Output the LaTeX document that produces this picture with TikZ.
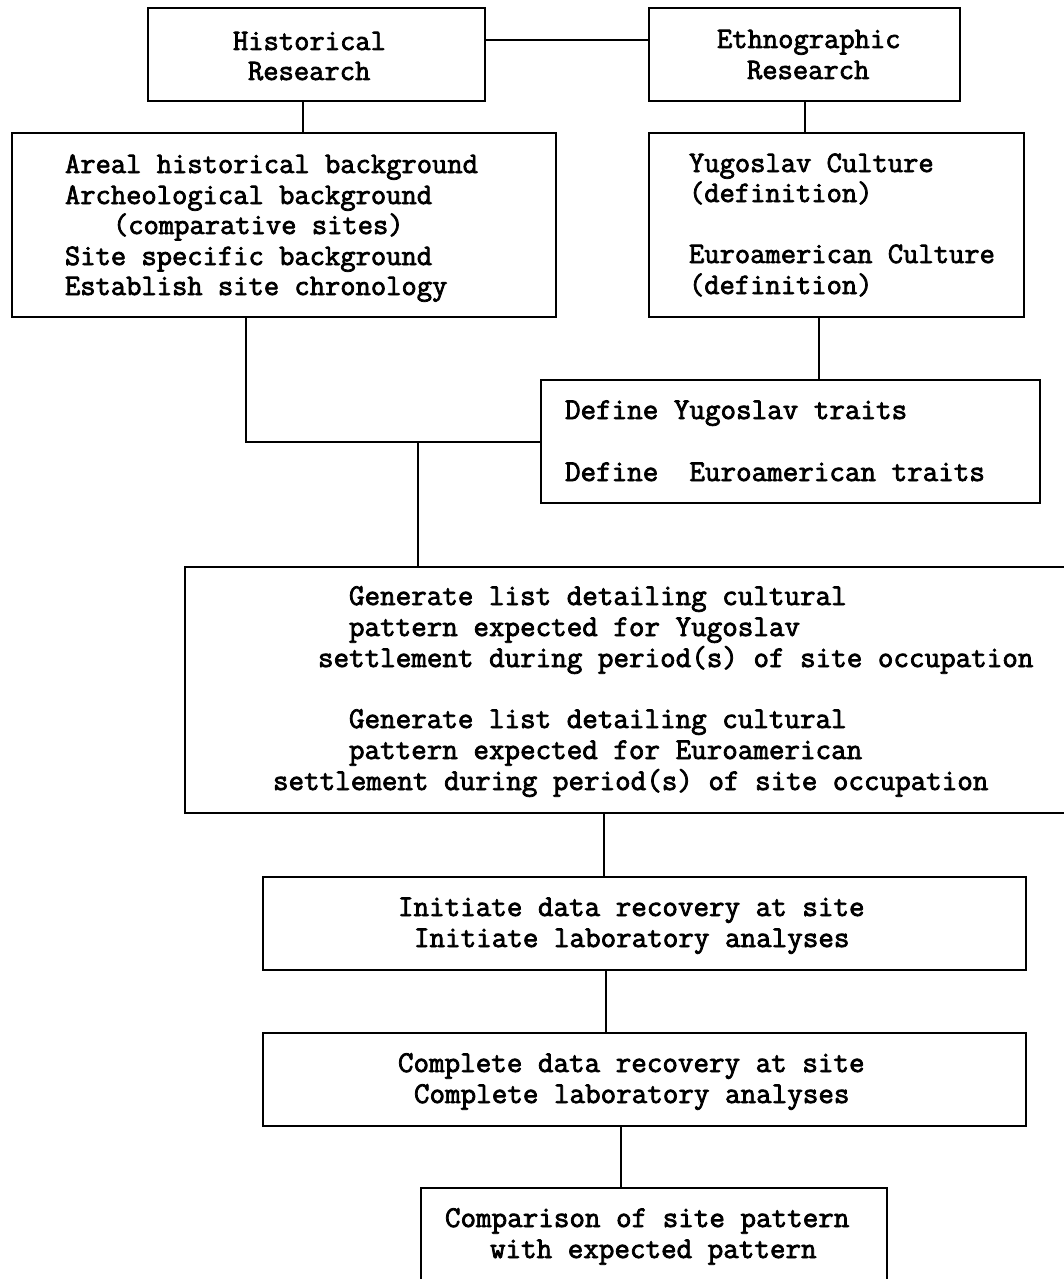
\documentclass[tikz,border=0pt]{standalone}
\usepackage{fontspec}
\newfontfamily\tw{Latin Modern Mono}[FakeBold=2.5]
\usetikzlibrary{calc}
\tikzset{
  boxx/.style={draw, line width=2.2pt, rectangle, inner sep=0pt, outer sep=0pt, anchor=north west},
  tline/.style={anchor=base west, inner sep=0pt, outer sep=0pt, font=\tw\fontsize{29.7}{31}\selectfont},
  bline/.style={anchor=base west, inner sep=0pt, outer sep=0pt, font=\tw\fontsize{30.2}{31}\selectfont},
  conn/.style={line width=2pt}
}
\begin{document}
\begin{tikzpicture}[x=1pt, y=-1pt]
\useasboundingbox (0,0) rectangle (1064,1279);
\clip (0,0) rectangle (1064,1279);
% boxes
\node[boxx, minimum width=337pt, minimum height=93pt] (hist) at (148,8) {};
\node[boxx, minimum width=311pt, minimum height=93pt] (eth) at (649,8) {};
\node[boxx, minimum width=544pt, minimum height=184pt] (bg) at (12,133) {};
\node[boxx, minimum width=375pt, minimum height=184pt] (cult) at (649,133) {};
\node[boxx, minimum width=499pt, minimum height=123pt] (traits) at (541,380) {};
\node[boxx, minimum width=890pt, minimum height=246pt] (gen) at (185,567) {};
\node[boxx, minimum width=763pt, minimum height=93pt] (init) at (263,877) {};
\node[boxx, minimum width=763pt, minimum height=93pt] (comp) at (263,1033) {};
\node[boxx, minimum width=466pt, minimum height=92pt] (cmp) at (421,1188) {};
% texts
\node[tline] (h1) at (233,50) {Historical};
\node[tline] (h2) at (248,80) {Research};
\node[tline] (e1) at (717,48) {Ethnographic};
\node[tline] (e2) at (747,79) {Research};
\node[tline] (b1) at (65,173) {Areal historical background};
\node[tline] (b2) at (65,204) {Archeological background};
\node[tline] (b3) at (113,234) {(comparative sites)};
\node[tline] (b4) at (65,265) {Site specific background};
\node[tline] (b5) at (65,295) {Establish site chronology};
\node[tline] (c1) at (689,172) {Yugoslav Culture};
\node[tline] (c2) at (689,202) {(definition)};
\node[tline] (c3) at (689,263) {Euroamerican Culture};
\node[tline] (c4) at (689,294) {(definition)};
\node[bline] (t1) at (565,419) {Define Yugoslav traits};
\node[bline] (t2) at (565,481) {Define\ \ Euroamerican traits};
\node[bline] (g1) at (349,605) {Generate list detailing cultural};
\node[bline] (g2) at (349,636) {pattern expected for Yugoslav};
\node[bline] (g3) at (318,667) {settlement during period(s) of site occupation};
\node[bline] (g4) at (349,728) {Generate list detailing cultural};
\node[bline] (g5) at (349,759) {pattern expected for Euroamerican};
\node[bline] (g6) at (273,790) {settlement during period(s) of site occupation};
\node[bline] (i1) at (398,916) {Initiate data recovery at site};
\node[bline] (i2) at (414,947) {Initiate laboratory analyses};
\node[bline] (k1) at (398,1072) {Complete data recovery at site};
\node[bline] (k2) at (414,1103) {Complete laboratory analyses};
\node[bline] (m1) at (445,1227) {Comparison of site pattern};
\node[bline] (m2) at (490,1258) {with expected pattern};
% connectors
\draw[conn] ([yshift=14.5pt]hist.east) -- ([yshift=14.5pt]eth.west);
\draw[conn] ([xshift=-13.5pt]hist.south) -- ([xshift=-13.5pt]hist.south |- bg.north);
\draw[conn] (eth.south) -- (eth.south |- cult.north);
\draw[conn] ([xshift=-17.5pt]cult.south) -- ([xshift=-17.5pt]cult.south |- traits.north);
\draw[conn] ([xshift=-38pt]bg.south) |- (traits.west);
\coordinate (j) at (418,441.5);
\draw[conn] (j) -- (j |- gen.north);
\draw[conn] ([xshift=-40.5pt]init.north |- gen.south) -- ([xshift=-40.5pt]init.north);
\draw[conn] ([xshift=-38.5pt]init.south) -- ([xshift=-38.5pt]init.south |- comp.north);
\draw[conn] ([xshift=-33pt]cmp.north |- comp.south) -- ([xshift=-33pt]cmp.north);
\end{tikzpicture}
\end{document}
